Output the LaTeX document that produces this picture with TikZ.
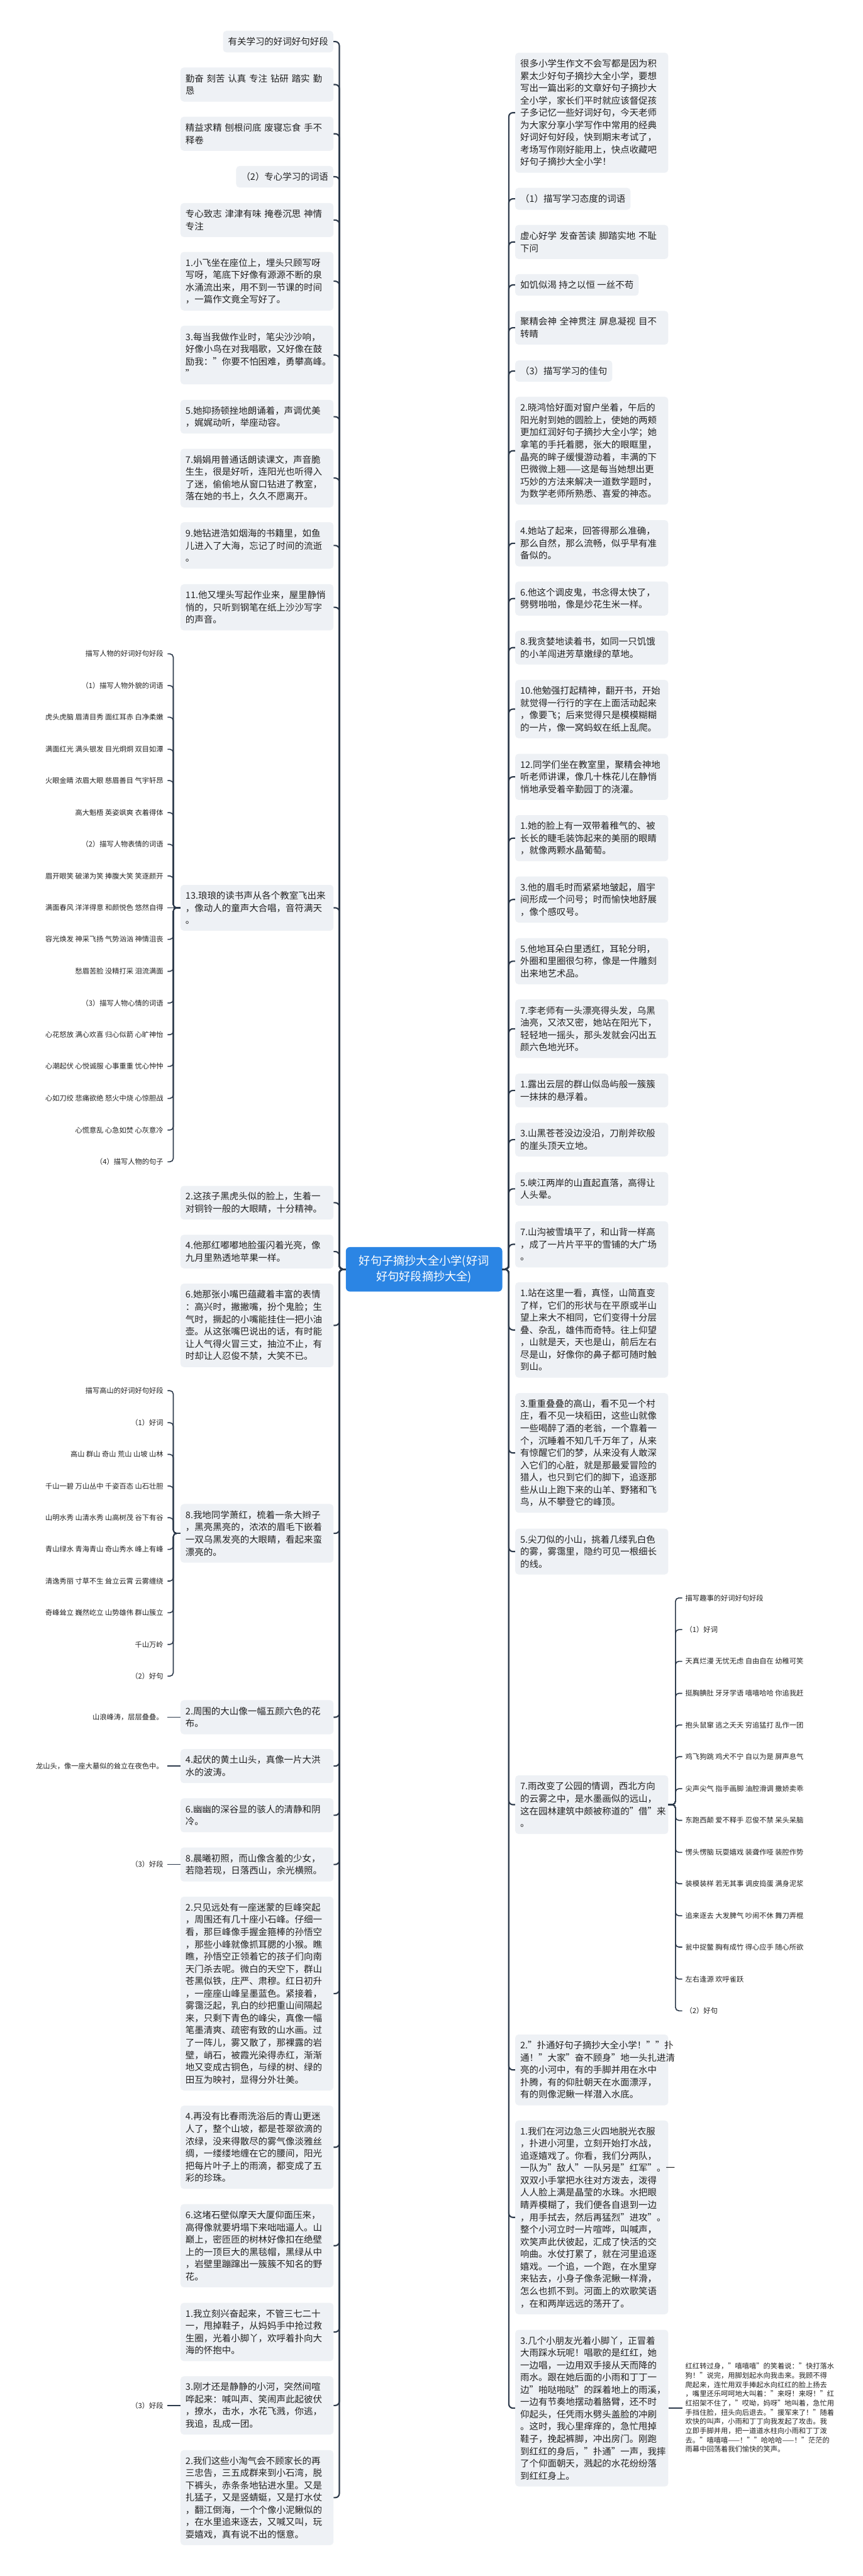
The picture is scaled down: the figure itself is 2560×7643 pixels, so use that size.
\documentclass[tikz,border=0pt]{standalone}
\usepackage{fontspec}
\setmainfont{Noto Sans CJK SC}
\usetikzlibrary{calc}
\definecolor{boxfill}{RGB}{238,241,245}
\definecolor{conncol}{RGB}{45,58,75}
\definecolor{cblue}{RGB}{43,133,228}
\definecolor{txt}{RGB}{34,34,34}
\begin{document}
\begin{tikzpicture}[x=0.5pt,y=-0.5pt,
 box/.style={fill=boxfill, rounded corners=5pt, text width=212pt, inner xsep=7.5pt, inner ysep=0pt, align=left, minimum height=#1*0.5pt, font=\fontsize{13.5pt}{18.25pt}\selectfont, text=txt},
 sbox/.style={fill=boxfill, rounded corners=5pt, inner xsep=7.5pt, inner ysep=0pt, minimum height=#1*0.5pt, font=\fontsize{13.5pt}{18.25pt}\selectfont, text=txt},
 leafL/.style={anchor=east, inner xsep=6pt, inner ysep=2pt, font=\fontsize{10.5pt}{14pt}\selectfont, text=txt},
 leafR/.style={anchor=west, inner xsep=4.5pt, inner ysep=2pt, font=\fontsize{10.5pt}{14pt}\selectfont, text=txt},
 para/.style={anchor=west, inner xsep=4.5pt, inner ysep=2pt, align=left, font=\fontsize{10.5pt}{13.7pt}\selectfont, text=txt},
 conn/.style={draw=conncol, line width=2pt, rounded corners=6pt},
 lconn/.style={draw=conncol, line width=1.5pt, rounded corners=5pt},
 hub/.style={fill=cblue, rounded corners=6pt, text=white, align=center, minimum width=232pt, minimum height=66pt, inner sep=0pt, font=\fontsize{17pt}{23pt}\selectfont}
]
\fill[white] (0,0) rectangle (2560,7643);
\useasboundingbox (0,0) rectangle (2560,7643);

% ---------- centre ----------
\node[hub] (c) at (1258,3766) {好句子摘抄大全小学(好词\\好句好段摘抄大全)};

% ---------- left boxes ----------
\node[sbox=64, anchor=north east] (L1) at (989,91) {有关学习的好词好句好段};
\node[box=101, anchor=north west] (L2) at (535,200) {勤奋 刻苦 认真 专注 钻研 踏实 勤\\恳};
\node[box=101, anchor=north west] (L3) at (535,346) {精益求精 刨根问底 废寝忘食 手不\\释卷};
\node[sbox=64, anchor=north east] (L4) at (989,492) {（2）专心学习的词语};
\node[box=101, anchor=north west] (L5) at (535,602) {专心致志 津津有味 掩卷沉思 神情\\专注};
\node[box=174, anchor=north west] (L6) at (535,747) {1.小飞坐在座位上，埋头只顾写呀\\写呀，笔底下好像有源源不断的泉\\水涌流出来，用不到一节课的时间\\，一篇作文竟全写好了。};
\node[box=174, anchor=north west] (L7) at (535,966) {3.每当我做作业时，笔尖沙沙响，\\好像小鸟在对我唱歌，又好像在鼓\\励我："你要不怕困难，勇攀高峰。\\"};
\node[box=100, anchor=north west] (L8) at (535,1186) {5.她抑扬顿挫地朗诵着，声调优美\\，娓娓动听，举座动容。};
\node[box=174, anchor=north west] (L9) at (535,1331) {7.娟娟用普通话朗读课文，声音脆\\生生，很是好听，连阳光也听得入\\了迷，偷偷地从窗口钻进了教室，\\落在她的书上，久久不愿离开。};
\node[box=138, anchor=north west] (L10) at (535,1549) {9.她钻进浩如烟海的书籍里，如鱼\\儿进入了大海，忘记了时间的流逝\\。};
\node[box=137, anchor=north west] (L11) at (535,1733) {11.他又埋头写起作业来，屋里静悄\\悄的，只听到钢笔在纸上沙沙写字\\的声音。};
\node[box=136, anchor=north west] (L12) at (535,2625) {13.琅琅的读书声从各个教室飞出来\\，像动人的童声大合唱，音符满天\\。};
\node[box=100, anchor=north west] (L13) at (535,3518) {2.这孩子黑虎头似的脸上，生着一\\对铜铃一般的大眼睛，十分精神。};
\node[box=100, anchor=north west] (L14) at (535,3663) {4.他那红嘟嘟地脸蛋闪着光亮，像\\九月里熟透地苹果一样。};
\node[box=248, anchor=north west] (L15) at (535,3808) {6.她那张小嘴巴蕴藏着丰富的表情\\：高兴时，撇撇嘴，扮个鬼脸；生\\气时，撅起的小嘴能挂住一把小油\\壶。从这张嘴巴说出的话，有时能\\让人气得火冒三丈，抽泣不止，有\\时却让人忍俊不禁，大笑不已。};
\node[box=174, anchor=north west] (L16) at (535,4462) {8.我地同学萧红，梳着一条大辫子\\，黑亮黑亮的，浓浓的眉毛下嵌着\\一双乌黑发亮的大眼睛，看起来蛮\\漂亮的。};
\node[box=101, anchor=north west] (L17) at (535,5044) {2.周围的大山像一幅五颜六色的花\\布。};
\node[box=101, anchor=north west] (L18) at (535,5189) {4.起伏的黄土山头，真像一片大洪\\水的波涛。};
\node[box=101, anchor=north west] (L19) at (535,5335) {6.幽幽的深谷显的骇人的清静和阴\\冷。};
\node[box=101, anchor=north west] (L20) at (535,5481) {8.晨曦初照，而山像含羞的少女，\\若隐若现，日落西山，余光横照。};
\node[box=575, anchor=north west] (L21) at (535,5627) {2.只见远处有一座迷蒙的巨峰突起\\，周围还有几十座小石峰。仔细一\\看，那巨峰像手握金箍棒的孙悟空\\，那些小峰就像抓耳腮的小猴。瞧\\瞧，孙悟空正领着它的孩子们向南\\天门杀去呢。微白的天空下，群山\\苍黑似铁，庄严、肃穆。红日初升\\，一座座山峰呈墨蓝色。紧接着，\\雾霭泛起，乳白的纱把重山间隔起\\来，只剩下青色的峰尖，真像一幅\\笔墨清爽、疏密有致的山水画。过\\了一阵儿，雾又散了，那裸露的岩\\壁，峭石，被霞光染得赤红，渐渐\\地又变成古铜色，与绿的树、绿的\\田互为映衬，显得分外壮美。};
\node[box=247, anchor=north west] (L22) at (535,6247) {4.再没有比春雨洗浴后的青山更迷\\人了，整个山坡，都是苍翠欲滴的\\浓绿，没来得散尽的雾气像淡雅丝\\绸，一缕缕地缠在它的腰间，阳光\\把每片叶子上的雨滴，都变成了五\\彩的珍珠。};
\node[box=247, anchor=north west] (L23) at (535,6539) {6.这堵石壁似摩天大厦仰面压来，\\高得像就要坍塌下来咄咄逼人。山\\巅上，密匝匝的树林好像扣在绝壁\\上的一顶巨大的黑毯帽，黑绿从中\\，岩壁里蹦蹿出一簇簇不知名的野\\花。};
\node[box=173, anchor=north west] (L24) at (535,6832) {1.我立刻兴奋起来，不管三七二十\\一，甩掉鞋子，从妈妈手中抢过救\\生圈，光着小脚丫，欢呼着扑向大\\海的怀抱中。};
\node[box=173, anchor=north west] (L25) at (535,7050) {3.刚才还是静静的小河，突然间喧\\哗起来：喊叫声、笑闹声此起彼伏\\，撩水，击水，水花飞溅，你逃，\\我追，乱成一团。};
\node[box=282, anchor=north west] (L26) at (535,7269) {2.我们这些小淘气会不顾家长的再\\三忠告，三五成群来到小石湾，脱\\下裤头，赤条条地钻进水里。又是\\扎猛子，又是竖蜻蜓，又是打水仗\\，翻江倒海，一个个像小泥鳅似的\\，在水里追来逐去，又喊又叫，玩\\耍嬉戏，真有说不出的惬意。};

% ---------- right boxes ----------
\node[box=356, anchor=north west] (R1) at (1528,156) {很多小学生作文不会写都是因为积\\累太少好句子摘抄大全小学，要想\\写出一篇出彩的文章好句子摘抄大\\全小学，家长们平时就应该督促孩\\子多记忆一些好词好句，今天老师\\为大家分享小学写作中常用的经典\\好词好句好段，快到期末考试了，\\考场写作刚好能用上，快点收藏吧\\好句子摘抄大全小学！};
\node[sbox=65, anchor=north west] (R2) at (1528,557) {（1）描写学习态度的词语};
\node[box=101, anchor=north west] (R3) at (1528,667) {虚心好学 发奋苦读 脚踏实地 不耻\\下问};
\node[sbox=64, anchor=north west] (R4) at (1528,813) {如饥似渴 持之以恒 一丝不苟};
\node[box=100, anchor=north west] (R5) at (1528,922) {聚精会神 全神贯注 屏息凝视 目不\\转睛};
\node[sbox=63, anchor=north west] (R6) at (1528,1069) {（3）描写学习的佳句};
\node[box=320, anchor=north west] (R7) at (1528,1177) {2.晓鸿恰好面对窗户坐着，午后的\\阳光射到她的圆脸上，使她的两颊\\更加红润好句子摘抄大全小学；她\\拿笔的手托着腮，张大的眼眶里，\\晶亮的眸子缓慢游动着，丰满的下\\巴微微上翘——这是每当她想出更\\巧妙的方法来解决一道数学题时，\\为数学老师所熟悉、喜爱的神态。};
\node[box=137, anchor=north west] (R8) at (1528,1543) {4.她站了起来，回答得那么准确，\\那么自然，那么流畅，似乎早有准\\备似的。};
\node[box=101, anchor=north west] (R9) at (1528,1725) {6.他这个调皮鬼，书念得太快了，\\劈劈啪啪，像是炒花生米一样。};
\node[box=100, anchor=north west] (R10) at (1528,1871) {8.我贪婪地读着书，如同一只饥饿\\的小羊闯进芳草嫩绿的草地。};
\node[box=173, anchor=north west] (R11) at (1528,2017) {10.他勉强打起精神，翻开书，开始\\就觉得一行行的字在上面活动起来\\，像要飞；后来觉得只是模模糊糊\\的一片，像一窝蚂蚁在纸上乱爬。};
\node[box=137, anchor=north west] (R12) at (1528,2236) {12.同学们坐在教室里，聚精会神地\\听老师讲课，像几十株花儿在静悄\\悄地承受着辛勤园丁的浇灌。};
\node[box=137, anchor=north west] (R13) at (1528,2418) {1.她的脸上有一双带着稚气的、被\\长长的睫毛装饰起来的美丽的眼睛\\，就像两颗水晶葡萄。};
\node[box=137, anchor=north west] (R14) at (1528,2600) {3.他的眉毛时而紧紧地皱起，眉宇\\间形成一个问号；时而愉快地舒展\\，像个感叹号。};
\node[box=137, anchor=north west] (R15) at (1528,2783) {5.他地耳朵白里透红，耳轮分明，\\外圈和里圈很匀称，像是一件雕刻\\出来地艺术品。};
\node[box=174, anchor=north west] (R16) at (1528,2965) {7.李老师有一头漂亮得头发，乌黑\\油亮，又浓又密，她站在阳光下，\\轻轻地一摇头，那头发就会闪出五\\颜六色地光环。};
\node[box=100, anchor=north west] (R17) at (1528,3185) {1.露出云层的群山似岛屿般一簇簇\\一抹抹的悬浮着。};
\node[box=100, anchor=north west] (R18) at (1528,3331) {3.山黑苍苍没边没沿，刀削斧砍般\\的崖头顶天立地。};
\node[box=100, anchor=north west] (R19) at (1528,3477) {5.峡江两岸的山直起直落，高得让\\人头晕。};
\node[box=137, anchor=north west] (R20) at (1528,3623) {7.山沟被雪填平了，和山背一样高\\，成了一片片平平的雪铺的大广场\\。};
\node[box=283, anchor=north west] (R21) at (1528,3804) {1.站在这里一看，真怪，山简直变\\了样，它们的形状与在平原或半山\\望上来大不相同，它们变得十分层\\叠、杂乱，雄伟而奇特。往上仰望\\，山就是天，天也是山，前后左右\\尽是山，好像你的鼻子都可随时触\\到山。};
\node[box=355, anchor=north west] (R22) at (1528,4133) {3.重重叠叠的高山，看不见一个村\\庄，看不见一块稻田，这些山就像\\一些喝醉了酒的老翁，一个靠着一\\个，沉睡着不知几千万年了，从来\\有惊醒它们的梦，从来没有人敢深\\入它们的心脏，就是那最爱冒险的\\猎人，也只到它们的脚下，追逐那\\些从山上跑下来的山羊、野猪和飞\\鸟，从不攀登它的峰顶。};
\node[box=136, anchor=north west] (R23) at (1528,4535) {5.尖刀似的小山，挑着几缕乳白色\\的雾，雾霭里，隐约可见一根细长\\的线。};
\node[box=174, anchor=north west] (R24) at (1528,5267) {7.雨改变了公园的情调，西北方向\\的云雾之中，是水墨画似的远山，\\这在园林建筑中颇被称道的"借"来\\。};
\node[box=210, anchor=north west] (R25) at (1528,6036) {2."扑通好句子摘抄大全小学！""扑\\通！"大家"奋不顾身"地一头扎进清\\亮的小河中，有的手脚并用在水中\\扑腾，有的仰肚朝天在水面漂浮，\\有的则像泥鳅一样潜入水底。};
\node[box=575, anchor=north west] (R26) at (1528,6291) {1.我们在河边急三火四地脱光衣服\\，扑进小河里，立刻开始打水战，\\追逐嬉戏了。你看，我们分两队，\\一队为"敌人"一队另是"红军"。一\\双双小手掌把水往对方泼去，泼得\\人人脸上满是晶莹的水珠。水把眼\\睛弄模糊了，我们便各自退到一边\\，用手拭去，然后再猛烈"进攻"。\\整个小河立时一片喧哗，叫喊声，\\欢笑声此伏彼起，汇成了快活的交\\响曲。水仗打累了，就在河里追逐\\嬉戏。一个追，一个跑，在水里穿\\来钻去，小身子像条泥鳅一样滑，\\怎么也抓不到。河面上的欢歌笑语\\，在和两岸远远的荡开了。};
\node[box=465, anchor=north west] (R27) at (1528,6912) {3.几个小朋友光着小脚丫，正冒着\\大雨踩水玩呢！唱歌的是红红，她\\一边唱，一边用双手接从天而降的\\雨水。跟在她后面的小雨和丁丁一\\边"啪哒啪哒"的踩着地上的雨溪，\\一边有节奏地摆动着胳臂，还不时\\仰起头，任凭雨水劈头盖脸的冲刷\\。这时，我心里痒痒的，急忙甩掉\\鞋子，挽起裤脚，冲出房门。刚跑\\到红红的身后，"扑通"一声，我摔\\了个仰面朝天，溅起的水花纷纷落\\到红红身上。};

% ---------- left leaves group A ----------
\node[leafL] (A1) at (497,1940) {描写人物的好词好句好段};
\node[leafL] (A2) at (497,2034) {（1）描写人物外貌的词语};
\node[leafL] (A3) at (497,2128) {虎头虎脑 眉清目秀 面红耳赤 白净柔嫩};
\node[leafL] (A4) at (497,2223) {满面红光 满头银发 目光炯炯 双目如潭};
\node[leafL] (A5) at (497,2316) {火眼金睛 浓眉大眼 慈眉善目 气宇轩昂};
\node[leafL] (A6) at (497,2411) {高大魁梧 英姿飒爽 衣着得体};
\node[leafL] (A7) at (497,2505) {（2）描写人物表情的词语};
\node[leafL] (A8) at (497,2599) {眉开眼笑 破涕为笑 捧腹大笑 笑逐颜开};
\node[leafL] (A9) at (497,2693) {满面春风 洋洋得意 和颜悦色 悠然自得};
\node[leafL] (A10) at (497,2787) {容光焕发 神采飞扬 气势汹汹 神情沮丧};
\node[leafL] (A11) at (497,2882) {愁眉苦脸 没精打采 泪流满面};
\node[leafL] (A12) at (497,2976) {（3）描写人物心情的词语};
\node[leafL] (A13) at (497,3070) {心花怒放 满心欢喜 归心似箭 心旷神怡};
\node[leafL] (A14) at (497,3164) {心潮起伏 心悦诚服 心事重重 忧心忡忡};
\node[leafL] (A15) at (497,3259) {心如刀绞 悲痛欲绝 怒火中烧 心惊胆战};
\node[leafL] (A16) at (497,3353) {心慌意乱 心急如焚 心灰意冷};
\node[leafL] (A17) at (497,3447) {（4）描写人物的句子};

% ---------- left leaves group B ----------
\node[leafL] (B1) at (497,4126) {描写高山的好词好句好段};
\node[leafL] (B2) at (497,4221) {（1）好词};
\node[leafL] (B3) at (497,4315) {高山 群山 奇山 荒山 山坡 山林};
\node[leafL] (B4) at (497,4409) {千山一碧 万山丛中 千姿百态 山石壮胆};
\node[leafL] (B5) at (497,4503) {山明水秀 山清水秀 山高树茂 谷下有谷};
\node[leafL] (B6) at (497,4597) {青山绿水 青海青山 奇山秀水 峰上有峰};
\node[leafL] (B7) at (497,4691) {清逸秀丽 寸草不生 耸立云霄 云雾缠绕};
\node[leafL] (B8) at (497,4785) {奇峰耸立 巍然屹立 山势雄伟 群山簇立};
\node[leafL] (B9) at (497,4879) {千山万岭};
\node[leafL] (B10) at (497,4973) {（2）好句};

% ---------- single left leaves ----------
\node[leafL] (S1) at (497,5094) {山浪峰涛，层层叠叠。};
\node[leafL] (S2) at (497,5240) {龙山头，像一座大墓似的耸立在夜色中。};
\node[leafL] (S3) at (497,5532) {（3）好段};
\node[leafL] (S4) at (497,7137) {（3）好段};

% ---------- right leaves ----------
\node[leafR] (Q1) at (2024,4741) {描写趣事的好词好句好段};
\node[leafR] (Q2) at (2024,4835) {（1）好词};
\node[leafR] (Q3) at (2024,4929) {天真烂漫 无忧无虑 自由自在 幼稚可笑};
\node[leafR] (Q4) at (2024,5024) {挺胸腆肚 牙牙学语 嘻嘻哈哈 你追我赶};
\node[leafR] (Q5) at (2024,5118) {抱头鼠窜 逃之夭夭 穷追猛打 乱作一团};
\node[leafR] (Q6) at (2024,5212) {鸡飞狗跳 鸡犬不宁 自以为是 屏声息气};
\node[leafR] (Q7) at (2024,5307) {尖声尖气 指手画脚 油腔滑调 撒娇卖乖};
\node[leafR] (Q8) at (2024,5401) {东跑西颠 爱不释手 忍俊不禁 呆头呆脑};
\node[leafR] (Q9) at (2024,5496) {愣头愣脑 玩耍嬉戏 装聋作哑 装腔作势};
\node[leafR] (Q10) at (2024,5589) {装模装样 若无其事 调皮捣蛋 满身泥浆};
\node[leafR] (Q11) at (2024,5684) {追来逐去 大发脾气 吵闹不休 舞刀弄棍};
\node[leafR] (Q12) at (2024,5777) {瓮中捉鳖 胸有成竹 得心应手 随心所欲};
\node[leafR] (Q13) at (2024,5872) {左右逢源 欢呼雀跃};
\node[leafR] (Q14) at (2024,5966) {（2）好句};

\node[para] (P) at (2024,7144) {红红转过身，"嘻嘻嘻"的笑着说："快打落水\\狗！"说完，用脚划起水向我击来。我顾不得\\爬起来，连忙用双手捧起水向红红的脸上扬去\\，嘴里还乐呵呵地大叫着："来呀！来呀！"红\\红招架不住了，"哎呦，妈呀"地叫着，急忙用\\手挡住脸，扭头向后退去。"援军来了！"随着\\欢快的叫声，小雨和丁丁向我发起了攻击。我\\立即手脚并用，把一道道水柱向小雨和丁丁泼\\去。"嘻嘻嘻——！""哈哈哈——！"茫茫的\\雨幕中回荡着我们愉快的笑声。};

% ---------- connectors ----------
\foreach \i in {1,...,26} \draw[conn] (c.west) -- ++(-19,0) |- (L\i.east);
\foreach \i in {1,...,27} \draw[conn] (c.east) -- ++(19,0) |- (R\i.west);

\foreach \i in {1,...,8,10,11,12,13,14,15,16,17} \draw[lconn] (L12.west) -- ++(-21,0) |- (A\i.east);
\draw[lconn] (L12.west) -- (L12.west -| A9.east);
\foreach \i in {1,...,10} \draw[lconn] (L16.west) -- ++(-21,0) |- (B\i.east);
\foreach \i in {1,...,14} \draw[lconn] (R24.east) -- ++(21,0) |- (Q\i.west);

\draw[lconn] (L17.west) -- (L17.west -| S1.east);
\draw[lconn] (L18.west) -- (L18.west -| S2.east);
\draw[lconn] (L20.west) -- (L20.west -| S3.east);
\draw[lconn] (L25.west) -- (L25.west -| S4.east);
\draw[lconn] (R27.east) -- (R27.east -| P.west);
\end{tikzpicture}
\end{document}
